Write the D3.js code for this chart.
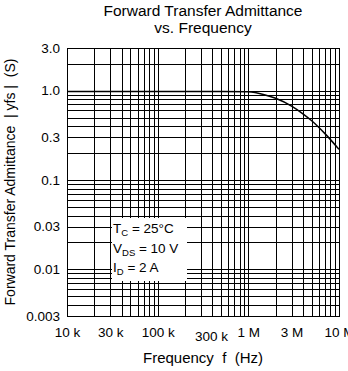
<!DOCTYPE html>
<html>
<head>
<meta charset="utf-8">
<script src="https://cdn.jsdelivr.net/npm/d3@7"></script>
<style>
  body { margin: 0; background: #fff; }
  text { font-family: "Liberation Sans", Arial, sans-serif; fill: #000; }
</style>
</head>
<body>
<svg class="chart"></svg>
<script>
// frequency (Hz) vs |yfs| (S)
var freq = [1e4, 1e5, 5e5, 1e6, 1.5e6, 2e6, 3e6, 4e6, 5e6, 7e6, 1e7];
var yfs  = [0.98, 0.98, 0.98, 0.97, 0.9, 0.82, 0.67, 0.55, 0.46, 0.33, 0.22];

var xTicks  = [1e4, 3e4, 1e5, 3e5, 1e6, 3e6, 1e7];
var xLabels = ["10 k", "30 k", "100 k", "300 k", "1 M", "3 M", "10 M"];
var yTicks  = [3, 1, 0.3, 0.1, 0.03, 0.01, 0.003];
var yLabels = ["3.0", "1.0", "0.3", "0.1", "0.03", "0.01", "0.003"];

var W = 348, H = 371;
var margin = {top: 48, right: 9, bottom: 55, left: 67},
    width = W - margin.left - margin.right,
    height = H - margin.top - margin.bottom;

var x = d3.scaleLog().domain([1e4, 1e7]).range([0, width]);
var y = d3.scaleLog().domain([0.003, 3]).range([height, 0]);

var svg = d3.select(".chart")
    .attr("width", W)
    .attr("height", H);

var main = svg.append("g")
    .attr("transform", "translate(" + margin.left + "," + margin.top + ")");

// grid
var xGrid = main.append("g")
    .attr("transform", "translate(0," + height + ")")
    .call(d3.axisBottom(x).tickValues(x.ticks()).tickSize(-height).tickFormat(""));
var yGrid = main.append("g")
    .call(d3.axisLeft(y).tickValues(y.ticks()).tickSize(-width).tickFormat(""));
main.selectAll(".tick line")
    .attr("stroke", "#000")
    .attr("shape-rendering", "crispEdges");
main.selectAll(".domain").remove();

main.append("rect")
    .attr("width", width)
    .attr("height", height)
    .attr("fill", "none")
    .attr("stroke", "#000")
    .attr("shape-rendering", "crispEdges");

// curve
var line = d3.line()
    .x(function (d, i) { return x(d); })
    .y(function (d, i) { return y(yfs[i]); })
    .curve(d3.curveMonotoneX);

main.append("path")
    .datum(freq)
    .attr("d", line)
    .attr("fill", "none")
    .attr("stroke", "#000")
    .attr("stroke-width", 1.5);

// tick labels
var xAxis = main.append("g")
    .attr("transform", "translate(0," + height + ")")
    .call(d3.axisBottom(x).tickValues(xTicks).tickSize(0).tickPadding(11)
        .tickFormat(function (d, i) { return xLabels[i]; }));
var yAxis = main.append("g")
    .call(d3.axisLeft(y).tickValues(yTicks).tickSize(0).tickPadding(7)
        .tickFormat(function (d, i) { return yLabels[i]; }));
xAxis.select(".domain").remove();
yAxis.select(".domain").remove();
main.selectAll("text")
    .attr("font-size", 13.5)
    .attr("font-family", null)
    .attr("fill", "#000");
// the 300 k label sits a little off its line in the original
xAxis.selectAll(".tick text")
    .filter(function (d) { return d === 3e5; })
    .attr("dx", 10)
    .attr("dy", "1em");

// conditions box
var box = main.append("g").attr("transform", "translate(45,170)");
box.append("rect")
    .attr("width", 75)
    .attr("height", 63)
    .attr("fill", "#fff");
var cond = [["T", "C", " = 25°C"], ["V", "DS", " = 10 V"], ["I", "D", " = 2 A"]];
cond.forEach(function (c, i) {
  var t = box.append("text")
      .attr("x", 1)
      .attr("y", 15 + i * 19.5)
      .attr("font-size", 13.5);
  t.append("tspan").text(c[0]);
  t.append("tspan").attr("font-size", 9.5).attr("dy", 3).text(c[1]);
  t.append("tspan").attr("dy", -3).text(c[2]);
});

// titles
svg.append("text")
    .attr("x", margin.left + width / 2)
    .attr("y", 16)
    .attr("text-anchor", "middle")
    .attr("font-size", 15.5)
    .text("Forward Transfer Admittance");
svg.append("text")
    .attr("x", margin.left + width / 2)
    .attr("y", 33)
    .attr("text-anchor", "middle")
    .attr("font-size", 15.5)
    .text("vs. Frequency");

svg.append("text")
    .attr("x", margin.left + width / 2)
    .attr("y", 363)
    .attr("text-anchor", "middle")
    .attr("font-size", 15)
    .style("white-space", "pre")
    .text("Frequency  f  (Hz)");

svg.append("text")
    .attr("transform", "translate(15," + (margin.top + height / 2) + ") rotate(-90)")
    .attr("text-anchor", "middle")
    .attr("font-size", 14)
    .style("white-space", "pre")
    .text("Forward Transfer Admittance  | yfs |  (S)");
</script>
</body>
</html>
